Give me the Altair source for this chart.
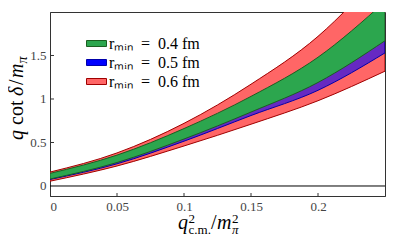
import altair as alt
import pandas as pd

# ---- data ----
xs = [0.0, 0.05, 0.10, 0.15, 0.20, 0.25]
red_hi = [0.16, 0.38, 0.72, 1.17, 1.72, 2.50]
red_lo = [0.055, 0.23, 0.46, 0.71, 0.98, 1.32]
blue_hi = [0.12, 0.32, 0.60, 0.95, 1.34, 1.85]
blue_lo = [0.075, 0.255, 0.515, 0.81, 1.10, 1.53]
green_hi = [0.145, 0.355, 0.66, 1.03, 1.48, 2.12]
green_lo = [0.08, 0.27, 0.54, 0.85, 1.19, 1.67]

series = ["rₘᵢₙ\u2002=\u20020.4 fm", "rₘᵢₙ\u2002=\u20020.5 fm", "rₘᵢₙ\u2002=\u20020.6 fm"]
fills = ["#2ca64e", "#0000ff", "#ff6666"]
strokes = ["#1b5e20", "#0000aa", "#a00000"]

x_ticks = [0, 0.05, 0.1, 0.15, 0.2]
y_ticks = [0, 0.5, 1, 1.5]
x_domain = [0, 0.25]
y_domain = [-0.115, 2.0]

rows = []
for name, hi, lo in [(series[2], red_hi, red_lo),
                     (series[1], blue_hi, blue_lo),
                     (series[0], green_hi, green_lo)]:
    for x, h, l in zip(xs, hi, lo):
        rows.append({"series": name, "x": x, "hi": h, "lo": l})
df = pd.DataFrame(rows)

W, H = 335, 184
FONT = "Liberation Serif"

xscale = alt.Scale(domain=x_domain, nice=False, zero=False)
yscale = alt.Scale(domain=y_domain, nice=False, zero=False)

xaxis = alt.Axis(values=x_ticks, format="~g", title="", ticks=False, grid=False,
                 labelFont=FONT, labelFontSize=13, labelColor="#444",
                 labelPadding=4, domainColor="#333")
yaxis = alt.Axis(values=y_ticks, format="~g", title="", ticks=False, grid=False,
                 labelFont=FONT, labelFontSize=13, labelColor="#444",
                 labelPadding=4, domainColor="#333")

leg = alt.Legend(orient="none", legendX=36, legendY=21, title=None,
                 symbolType="M-1,-0.3H1V0.3H-1Z", symbolSize=400,
                 symbolStrokeWidth=1, labelFont=FONT, labelFontSize=16,
                 labelColor="black", labelOffset=2, padding=0, rowPadding=0,
                 symbolOffset=0)


def band(label, opacity):
    return alt.Chart(df).transform_filter(alt.datum.series == label).mark_area(
        interpolate="monotone", clip=True, strokeWidth=1, fillOpacity=opacity
    ).encode(
        x=alt.X("x:Q", scale=xscale, axis=xaxis),
        y=alt.Y("hi:Q", scale=yscale, axis=yaxis),
        y2="lo:Q",
        fill=alt.Fill("series:N", scale=alt.Scale(domain=series, range=fills), legend=leg),
        stroke=alt.Stroke("series:N", scale=alt.Scale(domain=series, range=strokes), legend=leg),
    )


zero = alt.Chart(pd.DataFrame({"x": [0.0], "hi": [0.0]})).mark_rule(
    color="black", strokeWidth=1).encode(
    y=alt.Y("hi:Q", scale=yscale, axis=yaxis))

xt = alt.Chart(pd.DataFrame({"x": x_ticks[1:]})).mark_rule(color="#333").encode(
    x=alt.X("x:Q", scale=xscale, axis=xaxis), y=alt.value(H), y2=alt.value(H - 3))
yt = alt.Chart(pd.DataFrame({"hi": y_ticks[1:]})).mark_rule(color="#333").encode(
    y=alt.Y("hi:Q", scale=yscale, axis=yaxis), x=alt.value(0), x2=alt.value(4))

one = pd.DataFrame({"a": [0]})


def txt(s, x, y, size, italic=False, angle=0):
    kw = dict(text=s, font=FONT, fontSize=size, align="left", baseline="alphabetic",
              color="black", fontStyle="italic" if italic else "normal")
    if angle:
        kw["angle"] = angle
    return alt.Chart(one).mark_text(**kw).encode(x=alt.value(x), y=alt.value(y))


xtitle = [
    txt("q", 128, 217, 20, True),
    txt("2", 138.5, 211, 13),
    txt("c.m.", 138.5, 222, 13),
    txt("/", 161, 217, 20),
    txt("m", 167, 217, 20, True),
    txt("2", 182, 211, 13),
    txt("π", 182, 222, 13, True),
]
ytitle = [
    txt("q", -27, 128, 20, True, 270),
    txt("cot", -27, 113, 20, False, 270),
    txt("δ", -27, 84, 20, True, 270),
    txt("/", -27, 73, 20, False, 270),
    txt("m", -27, 66, 20, True, 270),
    txt("π", -23, 51.5, 14, True, 270),
]

chart = alt.layer(
    band(series[2], 1.0), band(series[1], 0.6), band(series[0], 1.0),
    zero, xt, yt, *xtitle, *ytitle
).properties(
    width=W, height=H,
    autosize=alt.AutoSizeParams(type="none"),
    padding={"left": 42, "top": 4, "right": 4, "bottom": 41},
    background="white",
).configure_view(stroke="#333", strokeWidth=1)

chart.save("out.html", embed_options={"renderer": "svg", "actions": False})
